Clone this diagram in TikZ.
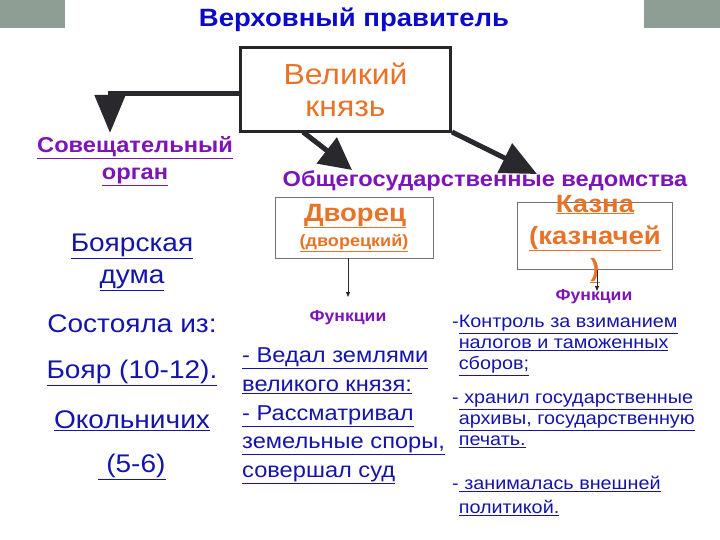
\documentclass[tikz,border=0pt]{standalone}
\usepackage{fontspec}
\setmainfont{Liberation Sans}[FakeStretch=1.1]
\usetikzlibrary{arrows.meta}
\definecolor{grayblk}{RGB}{142,158,148}
\definecolor{titleblue}{RGB}{10,10,200}
\definecolor{txtblue}{RGB}{20,20,170}
\definecolor{purp}{RGB}{125,20,185}
\definecolor{orng}{RGB}{232,115,40}
\definecolor{arr}{RGB}{40,40,45}
\newcommand{\ul}[1]{\underline{#1}}
\tikzset{
  fat/.style={draw=arr, line width=5pt},
  thin/.style={draw=arr, line width=0.8pt, -{Triangle[length=5pt,width=4pt]}},
  lbl/.style={inner sep=0pt, align=center},
  purpfont/.style={text=purp},
  lines/.style={inner sep=0pt, align=left, anchor=north west, text=txtblue},
}
\begin{document}
\begin{tikzpicture}[x=1pt,y=-1pt]
\useasboundingbox (0,0) rectangle (720,540);
\fill[grayblk] (0,0) rectangle (65,28);
\fill[grayblk] (644,0) rectangle (720,28);
\node[lbl, text=titleblue, font=\fontsize{25}{30}\selectfont\bfseries] (title) at (354,20) {Верховный правитель};
\node[draw=black!85, line width=3pt, minimum width=210pt, minimum height=84pt, text=orng, align=center, font=\fontsize{29}{32}\selectfont] (prince) at (345.5,89.5) {Великий\\князь};
\node[lbl, purpfont, font=\fontsize{21.5}{27}\selectfont\bfseries] (council) at (135,161) {\ul{Совещательный}\\\ul{орган}};
\node[lbl, purpfont, font=\fontsize{21.5}{24}\selectfont\bfseries] (dept) at (485,181) {Общегосударственные ведомства};
\node[draw=black!55, line width=0.8pt, minimum width=158pt, minimum height=61pt] (dvor) at (354,227.5) {};
\node[lbl, text=orng, font=\fontsize{25}{28}\selectfont\bfseries] (dvort) at (355,216) {\ul{Дворец}};
\node[lbl, text=orng, font=\fontsize{16.4}{18}\selectfont\bfseries] (dvors) at (354,243) {\ul{(дворецкий)}};
\node[draw=black!55, line width=0.8pt, minimum width=155pt, minimum height=67pt] (kazna) at (594.5,236) {};
\node[lbl, text=orng, font=\fontsize{25}{32}\selectfont\bfseries] (kaznat) at (595,239) {\ul{Казна}\\\ul{(казначей}\\\ul{)}};
\coordinate (ctip) at (110,133);
\coordinate (dtip) at (352,170);
\coordinate (ktip) at (537,174);
\draw[fat, -{Triangle[length=38pt,width=30pt]}] (prince.west |- 0,94) -- (110,94) -- (ctip);
\draw[fat, -{Triangle[length=32pt,width=32pt]}] (303,132) -- (dtip);
\draw[fat, -{Triangle[length=36pt,width=32pt]}] (452,132) -- (ktip);
\node[lbl, purpfont, font=\fontsize{16}{18}\selectfont\bfseries] (f1) at (348,318) {Функции};
\node[lbl, purpfont, font=\fontsize{16}{18}\selectfont\bfseries] (f2) at (594,297) {Функции};
\draw[thin] (dvor.south -| f1) -- (348,297);
\draw[thin] (597,269.6) -- (597,291);
\node[lbl, text=txtblue, font=\fontsize{25.5}{32}\selectfont] (duma) at (132,262) {\ul{Боярская}\\\ul{дума}};
\node[lbl, text=txtblue, font=\fontsize{25.5}{32}\selectfont] (sost) at (132,324) {Состояла из:};
\node[lbl, text=txtblue, font=\fontsize{25.5}{32}\selectfont] (boyar) at (132,373) {\ul{Бояр (10-12).}};
\node[lbl, text=txtblue, font=\fontsize{25.5}{32}\selectfont] (okol) at (132,421) {\ul{Окольничих}};
\node[lbl, text=txtblue, font=\fontsize{25.5}{32}\selectfont] (num) at (132,467) {\ul{\ (5-6)}};
\node[lines, font=\fontsize{21.5}{28.6}\selectfont] (mid) at (242,348) {\ul{- Ведал землями}\\\ul{великого князя:}\\\ul{- Рассматривал}\\\ul{земельные споры,}\\\ul{совершал суд}};
\node[lines, font=\fontsize{18}{21}\selectfont] (r1) at (452,315) {-\ul{Контроль за взиманием}\\\phantom{-}\ul{налогов и таможенных}\\\phantom{-}\ul{сборов;}};
\node[lines, font=\fontsize{18}{21}\selectfont] (r2) at (452,394) {-\ul{ хранил государственные}\\\phantom{-}\ul{архивы, государственную}\\\phantom{-}\ul{печать.}};
\node[lines, font=\fontsize{18}{24}\selectfont] (r3) at (452,476) {-\ul{ занималась внешней}\\\phantom{-}\ul{политикой.}};
\end{tikzpicture}
\end{document}
